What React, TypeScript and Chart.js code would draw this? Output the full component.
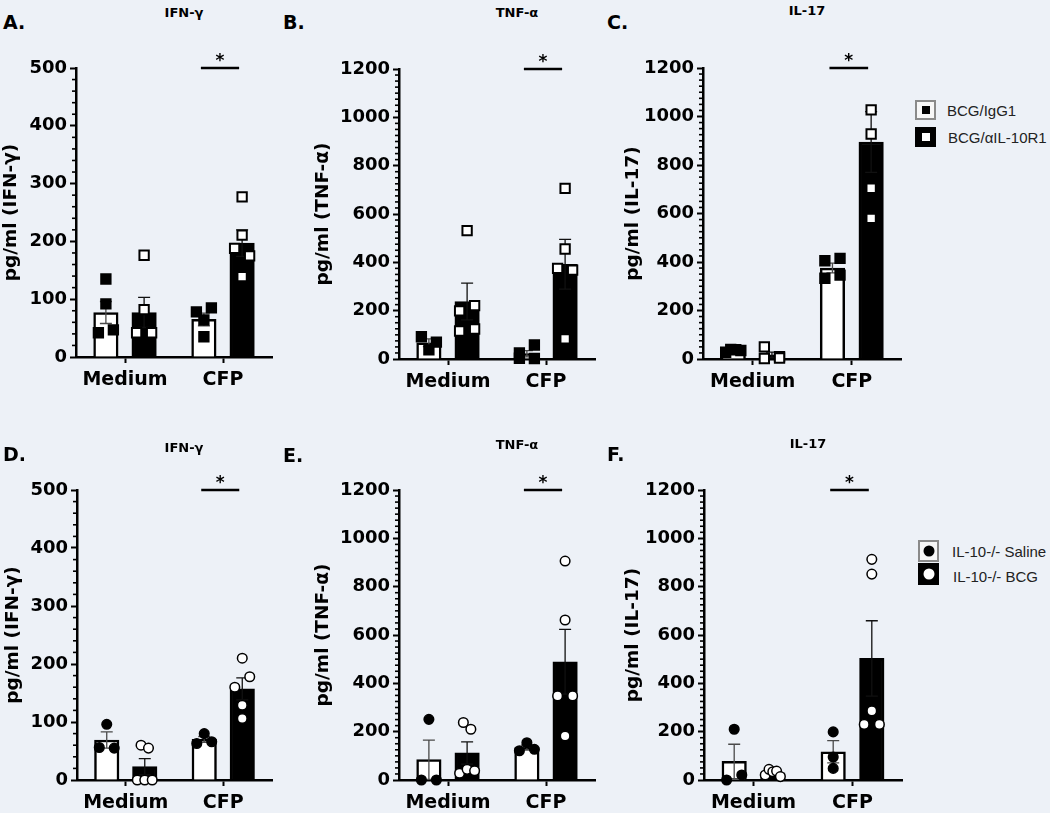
import React, { useEffect, useRef } from "react";
import { Chart, registerables } from "chart.js";

Chart.register(...registerables);

// ---------------- data ----------------
const categories = ["Medium", "CFP"];
const topSeries = ["BCG/IgG1", "BCG/αIL-10R1"];
const bottomSeries = ["IL-10-/- Saline", "IL-10-/- BCG"];

const ifnTicks = [0, 100, 200, 300, 400, 500];
const ifnMinorStep = 20;
const cytoTicks = [0, 200, 400, 600, 800, 1000, 1200];
const cytoMinorStep = 25;

// A. IFN-γ
const aIgG1Mean = [77, 65];
const aIgG1Sem = [19, 11];
const aIgG1Points = [[135, 92, 42, 47], [78, 85, 64, 35]];
const aAntiMean = [77, 197];
const aAntiSem = [26, 23];
const aAntiPoints = [[176, 82, 42, 42], [277, 211, 188, 175, 139]];

// B. TNF-α
const bIgG1Mean = [67, 22];
const bIgG1Sem = [16, 13];
const bIgG1Points = [[92, 70, 38], [25, 58, 3, 2]];
const bAntiMean = [238, 392];
const bAntiSem = [76, 103];
const bAntiPoints = [[531, 199, 221, 116, 124], [706, 455, 375, 368, 83]];

// C. IL-17
const cIgG1Mean = [35, 375];
const cIgG1Sem = [3, 20];
const cIgG1Points = [[28, 40, 38, 35], [405, 415, 333, 346]];
const cAntiMean = [17, 895];
const cAntiSem = [11, 125];
const cAntiPoints = [[2, 50, 10, 4], [1027, 928, 704, 580]];

// D. IFN-γ
const dSalineMean = [69, 70];
const dSalineSem = [14, 5];
const dSalinePoints = [[96, 56, 55], [63, 80, 66]];
const dBcgMean = [23, 157];
const dBcgSem = [14, 19];
const dBcgPoints = [[60, 55, 0, 0, 0], [210, 160, 178, 129, 106]];

// E. TNF-α
const eSalineMean = [84, 134];
const eSalineSem = [81, 10];
const eSalinePoints = [[251, 0, 0], [121, 154, 127]];
const eBcgMean = [112, 489];
const eBcgSem = [46, 134];
const eBcgPoints = [[238, 210, 28, 44, 38], [906, 662, 348, 348, 182]];

// F. IL-17
const fSalineMean = [77, 117];
const fSalineSem = [71, 46];
const fSalinePoints = [[210, 0, 21], [199, 95, 48]];
const fBcgMean = [30, 503];
const fBcgSem = [6, 156];
const fBcgPoints = [[21, 44, 34, 37, 14], [913, 852, 230, 286, 230]];

// ---------------- styling / layout ----------------
const BG = "#edf1f7";
const AXIS_FONT = "'DejaVu Sans', 'Liberation Sans', sans-serif";
const LEGEND_FONT = "'Liberation Sans', Arial, sans-serif";
const GROUP_PCT = 0.78; // share of a category used by the two bars
const BAR_PX = 24.5;
const PLOT_PX = 290;
const CAT_PX = 98;
const SWARM_GAP_PX = 11;
const SWARM_SPAN_PX = 15;

type Series = { mean: number[]; sem: number[]; points: number[][] };

function swarmAll(vals: number[], base: number, yMax: number): number[] {
  const thr = (SWARM_GAP_PX / PLOT_PX) * yMax;
  const order = vals.map((_, i) => i).sort((a, b) => vals[b] - vals[a]);
  const groups: number[][] = [];
  for (const i of order) {
    const g = groups[groups.length - 1];
    if (g && vals[g[0]] - vals[i] <= thr) g.push(i);
    else groups.push([i]);
  }
  const maxSize = Math.max(...groups.map((g) => g.length));
  const stepPx = maxSize > 1 ? SWARM_SPAN_PX / (maxSize - 1) : 0;
  const out = vals.map(() => base);
  for (const g of groups) {
    const sorted = [...g].sort((a, b) => a - b);
    const k = sorted.length;
    sorted.forEach((idx, j) => {
      out[idx] = base + ((j - (k - 1) / 2) * stepPx) / CAT_PX;
    });
  }
  return out;
}

type PanelDef = {
  x: number;
  y: number;
  w: number;
  h: number;
  padTop: number;
  padLeft: number;
  padRight: number;
  yWidth: number;
  xHeight: number;
  yTitle: string;
  yTicks: number[];
  minorStep: number;
  series: Series[];
  labels: string[];
  marker: "rect" | "circle";
};

function Panel(p: PanelDef) {
  const ref = useRef<HTMLCanvasElement>(null);
  useEffect(() => {
    const canvas = ref.current;
    if (!canvas) return;
    const yMax = p.yTicks[p.yTicks.length - 1];
    const major = p.yTicks[1] - p.yTicks[0];
    const shift = GROUP_PCT / 4;
    const centerOf = (si: number, ci: number) => ci + (si === 0 ? -shift : shift);
    const barData = p.series.map((s, si) => s.mean.map((m, ci) => ({ x: centerOf(si, ci), y: m })));
    const scatterData = p.series.map((s, si) =>
      s.points.flatMap((vals, ci) => {
        const xs = swarmAll(vals, centerOf(si, ci), yMax);
        return vals.map((v, k) => ({ x: xs[k], y: v }));
      })
    );
    const isRect = p.marker === "rect";

    const errorPlugin = {
      id: "errorBars",
      afterDatasetDraw(chart: any, args: any) {
        const si = args.index;
        if (si > 1) return;
        const s = p.series[si];
        const ys = chart.scales.y;
        const ctx = chart.ctx;
        ctx.save();
        ctx.strokeStyle = si === 0 ? "#4a4a4a" : "#111";
        ctx.lineWidth = 1.3;
        args.meta.data.forEach((bar: any, i: number) => {
          const x = bar.x;
          const yt = ys.getPixelForValue(s.mean[i] + s.sem[i]);
          const yb = ys.getPixelForValue(Math.max(0, s.mean[i] - s.sem[i]));
          ctx.beginPath();
          ctx.moveTo(x, yt);
          ctx.lineTo(x, yb);
          ctx.moveTo(x - 6, yt);
          ctx.lineTo(x + 6, yt);
          ctx.moveTo(x - 6, yb);
          ctx.lineTo(x + 6, yb);
          ctx.stroke();
        });
        ctx.restore();
      },
    };

    const minorPlugin = {
      id: "minorTicks",
      afterDraw(chart: any) {
        const ys = chart.scales.y;
        const ctx = chart.ctx;
        const x0 = chart.chartArea.left;
        ctx.save();
        ctx.strokeStyle = "#000";
        ctx.lineWidth = 1.6;
        for (let v = p.minorStep; v < yMax; v += p.minorStep) {
          if (v % major === 0) continue;
          const py = ys.getPixelForValue(v);
          ctx.beginPath();
          ctx.moveTo(x0 - 4, py);
          ctx.lineTo(x0, py);
          ctx.stroke();
        }
        ctx.restore();
      },
    };

    const sigPlugin = {
      id: "sigBar",
      afterDraw(chart: any) {
        const b0 = chart.getDatasetMeta(0).data[1];
        const b1 = chart.getDatasetMeta(1).data[1];
        const y = chart.scales.y.getPixelForValue(yMax);
        const ctx = chart.ctx;
        ctx.save();
        ctx.strokeStyle = "#000";
        ctx.lineWidth = 2.5;
        ctx.beginPath();
        ctx.moveTo(b0.x - 3, y);
        ctx.lineTo(b1.x - 3, y);
        ctx.stroke();
        ctx.fillStyle = "#000";
        ctx.font = `bold 17px ${AXIS_FONT}`;
        ctx.textAlign = "center";
        ctx.textBaseline = "alphabetic";
        ctx.fillText("*", (b0.x + b1.x) / 2 - 3, y - 2.5);
        ctx.restore();
      },
    };

    const barCommon = {
      type: "bar",
      borderColor: "#000000",
      borderWidth: 2.5,
      barThickness: BAR_PX,
      grouped: false,
      xAxisID: "xs",
      yAxisID: "y",
      order: 2,
    };
    const ptCommon = {
      type: "scatter",
      xAxisID: "xs",
      yAxisID: "y",
      pointStyle: p.marker,
      pointRadius: isRect ? 6.6 : 4.8,
      pointHoverRadius: isRect ? 6.6 : 4.8,
      borderColor: "#000000",
      borderWidth: isRect ? 2 : 1.5,
      clip: false,
      grouped: false,
      order: 0,
    };

    const chart = new Chart(canvas, {
      type: "scatter",
      data: {
        labels: categories,
        datasets: [
          { ...barCommon, label: p.labels[0], data: barData[0], backgroundColor: "#ffffff" },
          { ...barCommon, label: p.labels[1], data: barData[1], backgroundColor: "#000000" },
          { ...ptCommon, label: p.labels[0] + " points", data: scatterData[0], backgroundColor: "#000000" },
          { ...ptCommon, label: p.labels[1] + " points", data: scatterData[1], backgroundColor: "#ffffff" },
        ] as any,
      },
      options: {
        animation: false,
        responsive: false,
        devicePixelRatio: 1,
        events: [],
        layout: { padding: { top: p.padTop, left: p.padLeft, right: p.padRight, bottom: 0 } },
        plugins: {
          legend: { display: false },
          tooltip: { enabled: false },
          title: { display: false },
        },
        scales: {
          x: {
            type: "category",
            labels: categories,
            offset: true,
            grid: {
              display: true,
              drawOnChartArea: false,
              drawTicks: true,
              tickLength: 6,
              tickWidth: 2,
              tickColor: "#000",
              offset: false,
            },
            border: { display: true, color: "#000", width: 2.5 },
            ticks: {
              color: "#000",
              font: { family: AXIS_FONT, weight: "bold", size: 19 },
              padding: 6,
              maxRotation: 0,
              autoSkip: false,
            },
            afterFit: (s: any) => {
              s.height = p.xHeight;
            },
          },
          xs: {
            type: "linear",
            display: false,
            offset: false,
            min: -0.5,
            max: 1.5,
            grid: { display: false },
          },
          y: {
            type: "linear",
            min: 0,
            max: yMax,
            grid: {
              display: true,
              drawOnChartArea: false,
              drawTicks: true,
              tickLength: 6,
              tickWidth: 2,
              tickColor: "#000",
            },
            border: { display: true, color: "#000", width: 2.5 },
            ticks: {
              stepSize: major,
              color: "#000",
              font: { family: AXIS_FONT, weight: "bold", size: 18 },
              padding: 3,
              autoSkip: false,
              callback: (v: any) => String(v),
            },
            title: {
              display: true,
              text: p.yTitle,
              color: "#000",
              font: { family: AXIS_FONT, weight: "bold", size: 18.5 },
              padding: 0,
            },
            afterFit: (s: any) => {
              s.width = p.yWidth;
            },
          },
        },
      } as any,
      plugins: [errorPlugin, minorPlugin, sigPlugin],
    });
    return () => chart.destroy();
  }, []);
  return (
    <canvas
      ref={ref}
      width={p.w}
      height={p.h}
      style={{ position: "absolute", left: p.x, top: p.y, width: p.w, height: p.h }}
    />
  );
}

const textBase: React.CSSProperties = {
  position: "absolute",
  whiteSpace: "nowrap",
  lineHeight: 1,
  color: "#000",
};

function Label(props: { x: number; y: number; text: string; size: number; center?: boolean; font?: string; weight?: string; color?: string }) {
  return (
    <div
      style={{
        ...textBase,
        left: props.x,
        top: props.y,
        fontFamily: props.font || AXIS_FONT,
        fontWeight: (props.weight || "bold") as any,
        fontSize: props.size,
        color: props.color || "#000",
        transform: props.center ? "translate(-50%, -50%)" : "translateY(-50%)",
      }}
    >
      {props.text}
    </div>
  );
}

function LegendBox(props: { x: number; y: number; w: number; h: number; dark: boolean; circle: boolean }) {
  const inner = props.circle ? 11 : 8;
  return (
    <div
      style={{
        position: "absolute",
        left: props.x,
        top: props.y,
        width: props.w,
        height: props.h,
        boxSizing: "border-box",
        background: props.dark ? "#000" : "#f7f7f7",
        border: props.dark ? "2px solid #000" : "2px solid #8a8a8a",
      }}
    >
      <div
        style={{
          position: "absolute",
          left: "50%",
          top: "50%",
          width: inner,
          height: inner,
          transform: "translate(-50%, -50%)",
          background: props.dark ? "#fff" : "#000",
          borderRadius: props.circle ? "50%" : 0,
        }}
      />
    </div>
  );
}

export default function App() {
  const topSeriesA: Series[] = [
    { mean: aIgG1Mean, sem: aIgG1Sem, points: aIgG1Points },
    { mean: aAntiMean, sem: aAntiSem, points: aAntiPoints },
  ];
  const topSeriesB: Series[] = [
    { mean: bIgG1Mean, sem: bIgG1Sem, points: bIgG1Points },
    { mean: bAntiMean, sem: bAntiSem, points: bAntiPoints },
  ];
  const topSeriesC: Series[] = [
    { mean: cIgG1Mean, sem: cIgG1Sem, points: cIgG1Points },
    { mean: cAntiMean, sem: cAntiSem, points: cAntiPoints },
  ];
  const botSeriesD: Series[] = [
    { mean: dSalineMean, sem: dSalineSem, points: dSalinePoints },
    { mean: dBcgMean, sem: dBcgSem, points: dBcgPoints },
  ];
  const botSeriesE: Series[] = [
    { mean: eSalineMean, sem: eSalineSem, points: eSalinePoints },
    { mean: eBcgMean, sem: eBcgSem, points: eBcgPoints },
  ];
  const botSeriesF: Series[] = [
    { mean: fSalineMean, sem: fSalineSem, points: fSalinePoints },
    { mean: fBcgMean, sem: fBcgSem, points: fBcgPoints },
  ];

  return (
    <div
      style={{
        position: "fixed",
        left: 0,
        top: 0,
        width: 1050,
        height: 813,
        overflow: "hidden",
        background: BG,
      }}
    >
      <Panel x={0} y={40} w={282} h={360} padTop={28} padLeft={0} padRight={10} yWidth={76} xHeight={43}
        yTitle="pg/ml (IFN-γ)" yTicks={ifnTicks} minorStep={ifnMinorStep} series={topSeriesA} labels={topSeries} marker="rect" />
      <Panel x={312} y={40} w={293} h={360} padTop={29} padLeft={0} padRight={10} yWidth={87} xHeight={41}
        yTitle="pg/ml (TNF-α)" yTicks={cytoTicks} minorStep={cytoMinorStep} series={topSeriesB} labels={topSeries} marker="rect" />
      <Panel x={622} y={40} w={288} h={360} padTop={28} padLeft={0} padRight={8} yWidth={81} xHeight={41}
        yTitle="pg/ml (IL-17)" yTicks={cytoTicks} minorStep={cytoMinorStep} series={topSeriesC} labels={topSeries} marker="rect" />
      <Panel x={0} y={460} w={282} h={353} padTop={30} padLeft={2} padRight={10} yWidth={75} xHeight={33}
        yTitle="pg/ml (IFN-γ)" yTicks={ifnTicks} minorStep={ifnMinorStep} series={botSeriesD} labels={bottomSeries} marker="circle" />
      <Panel x={312} y={460} w={293} h={353} padTop={30} padLeft={0} padRight={10} yWidth={87} xHeight={33}
        yTitle="pg/ml (TNF-α)" yTicks={cytoTicks} minorStep={cytoMinorStep} series={botSeriesE} labels={bottomSeries} marker="circle" />
      <Panel x={622} y={460} w={288} h={353} padTop={30} padLeft={0} padRight={8} yWidth={82} xHeight={33}
        yTitle="pg/ml (IL-17)" yTicks={cytoTicks} minorStep={cytoMinorStep} series={botSeriesF} labels={bottomSeries} marker="circle" />

      <Label x={3} y={21.7} text="A." size={19} />
      <Label x={283} y={22} text="B." size={19} />
      <Label x={607} y={22} text="C." size={19} />
      <Label x={3} y={454} text="D." size={19} />
      <Label x={283} y={455} text="E." size={19} />
      <Label x={607} y={454} text="F." size={19} />

      <Label x={184} y={12} text="IFN-γ" size={13} center />
      <Label x={517} y={12} text="TNF-α" size={13} center />
      <Label x={807} y={9.5} text="IL-17" size={13} center />
      <Label x={184} y={447} text="IFN-γ" size={13} center />
      <Label x={517} y={444} text="TNF-α" size={13} center />
      <Label x={808} y={443} text="IL-17" size={13} center />

      <LegendBox x={915} y={100} w={21} h={20} dark={false} circle={false} />
      <LegendBox x={915} y={127} w={21} h={20} dark={true} circle={false} />
      <Label x={947} y={110} text={topSeries[0]} size={15} font={LEGEND_FONT} weight="normal" color="#222" />
      <Label x={948} y={137} text={topSeries[1]} size={15} font={LEGEND_FONT} weight="normal" color="#222" />

      <LegendBox x={918} y={540} w={21} h={22} dark={false} circle={true} />
      <LegendBox x={918} y={563} w={21} h={22} dark={true} circle={true} />
      <Label x={952} y={551} text={bottomSeries[0]} size={15} font={LEGEND_FONT} weight="normal" color="#222" />
      <Label x={953} y={576} text={bottomSeries[1]} size={15} font={LEGEND_FONT} weight="normal" color="#222" />
    </div>
  );
}
